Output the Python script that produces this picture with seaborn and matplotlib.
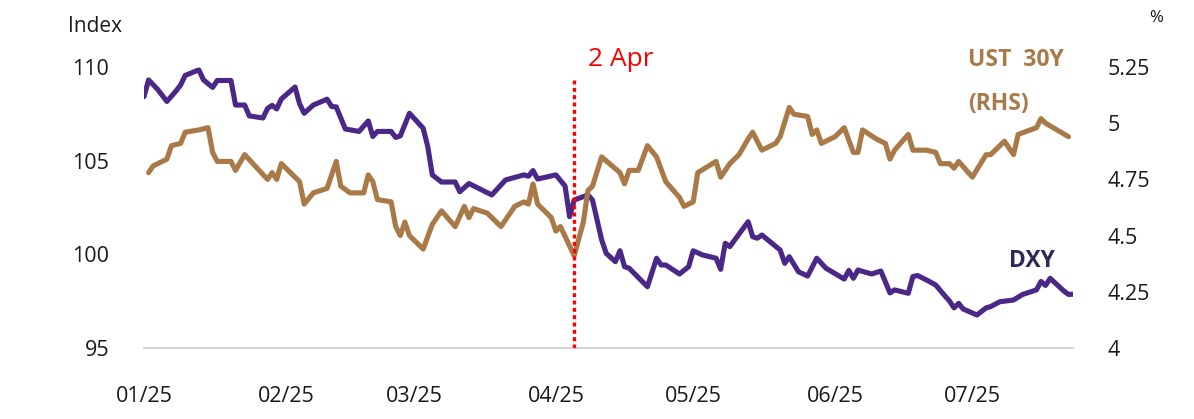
import matplotlib
matplotlib.use("Agg")
import matplotlib.pyplot as plt
import matplotlib.dates as mdates
import seaborn as sns
import pandas as pd

# DXY index (left axis)
dxy_dates = [
    "2025-01-01", "2025-01-02", "2025-01-04", "2025-01-06", "2025-01-08", "2025-01-09", "2025-01-10", "2025-01-12", "2025-01-13", "2025-01-14",
    "2025-01-16", "2025-01-17", "2025-01-20", "2025-01-21", "2025-01-23", "2025-01-24", "2025-01-27", "2025-01-28", "2025-01-29", "2025-01-30",
    "2025-01-31", "2025-02-03", "2025-02-04", "2025-02-05", "2025-02-07", "2025-02-10", "2025-02-11", "2025-02-12", "2025-02-14", "2025-02-17",
    "2025-02-19", "2025-02-20", "2025-02-21", "2025-02-24", "2025-02-25", "2025-02-26", "2025-02-28", "2025-03-03", "2025-03-04", "2025-03-05",
    "2025-03-07", "2025-03-10", "2025-03-11", "2025-03-13", "2025-03-18", "2025-03-21", "2025-03-25", "2025-03-26", "2025-03-27", "2025-03-28",
    "2025-04-01", "2025-04-03", "2025-04-04", "2025-04-05", "2025-04-08", "2025-04-09", "2025-04-11", "2025-04-12", "2025-04-14", "2025-04-15",
    "2025-04-16", "2025-04-17", "2025-04-21", "2025-04-23", "2025-04-24", "2025-04-25", "2025-04-28", "2025-04-30", "2025-05-01", "2025-05-03",
    "2025-05-06", "2025-05-07", "2025-05-08", "2025-05-09", "2025-05-13", "2025-05-14", "2025-05-15", "2025-05-16", "2025-05-20", "2025-05-21",
    "2025-05-22", "2025-05-24", "2025-05-26", "2025-05-28", "2025-05-30", "2025-06-03", "2025-06-04", "2025-06-05", "2025-06-06", "2025-06-09",
    "2025-06-11", "2025-06-13", "2025-06-14", "2025-06-17", "2025-06-18", "2025-06-19", "2025-06-21", "2025-06-23", "2025-06-25", "2025-06-26",
    "2025-06-27", "2025-06-28", "2025-06-29", "2025-07-02", "2025-07-04", "2025-07-05", "2025-07-07", "2025-07-10", "2025-07-12", "2025-07-15",
    "2025-07-16", "2025-07-17", "2025-07-18", "2025-07-21", "2025-07-22", "2025-07-23",
]
dxy_values = [
    108.42, 109.31, 108.80, 108.16, 108.72, 109.04, 109.55, 109.75, 109.84, 109.31,
    108.91, 109.28, 109.28, 107.97, 107.97, 107.39, 107.28, 107.79, 107.95, 107.76,
    108.29, 108.93, 108.03, 107.53, 107.97, 108.28, 107.89, 107.87, 106.69, 106.56,
    107.12, 106.29, 106.56, 106.56, 106.24, 106.32, 107.53, 106.73, 105.75, 104.24,
    103.86, 103.86, 103.34, 103.78, 103.17, 103.97, 104.24, 104.17, 104.47, 104.02,
    104.24, 103.65, 102.01, 102.90, 103.17, 102.90, 100.77, 100.05, 99.61, 100.19,
    99.34, 99.26, 98.27, 99.79, 99.43, 99.43, 98.95, 99.34, 100.19, 99.97,
    99.79, 99.20, 100.59, 100.41, 101.74, 100.94, 100.86, 101.03, 100.23, 99.52,
    99.87, 99.07, 98.84, 99.79, 99.26, 98.68, 99.14, 98.72, 99.16, 98.95,
    99.11, 97.94, 98.10, 97.92, 98.81, 98.87, 98.63, 98.36, 97.78, 97.51,
    97.14, 97.38, 97.08, 96.76, 97.14, 97.21, 97.47, 97.56, 97.86, 98.10,
    98.55, 98.34, 98.72, 98.04, 97.86, 97.87,
]

# UST 30Y yield in % (right axis)
ust_dates = [
    "2025-01-02", "2025-01-03", "2025-01-06", "2025-01-07", "2025-01-09", "2025-01-10", "2025-01-13", "2025-01-15", "2025-01-16", "2025-01-17",
    "2025-01-20", "2025-01-21", "2025-01-23", "2025-01-28", "2025-01-29", "2025-01-30", "2025-01-31", "2025-02-04", "2025-02-05", "2025-02-07",
    "2025-02-10", "2025-02-12", "2025-02-13", "2025-02-15", "2025-02-18", "2025-02-19", "2025-02-20", "2025-02-21", "2025-02-24", "2025-02-25",
    "2025-02-26", "2025-02-27", "2025-02-28", "2025-03-03", "2025-03-05", "2025-03-06", "2025-03-07", "2025-03-10", "2025-03-12", "2025-03-13",
    "2025-03-14", "2025-03-17", "2025-03-20", "2025-03-23", "2025-03-25", "2025-03-26", "2025-03-27", "2025-03-28", "2025-03-31", "2025-04-01",
    "2025-04-02", "2025-04-05", "2025-04-07", "2025-04-08", "2025-04-09", "2025-04-11", "2025-04-15", "2025-04-16", "2025-04-17", "2025-04-19",
    "2025-04-21", "2025-04-23", "2025-04-25", "2025-04-28", "2025-04-29", "2025-05-01", "2025-05-02", "2025-05-06", "2025-05-07", "2025-05-09",
    "2025-05-11", "2025-05-13", "2025-05-14", "2025-05-16", "2025-05-19", "2025-05-20", "2025-05-22", "2025-05-23", "2025-05-26", "2025-05-27",
    "2025-05-28", "2025-05-29", "2025-06-01", "2025-06-03", "2025-06-05", "2025-06-06", "2025-06-07", "2025-06-10", "2025-06-12", "2025-06-13",
    "2025-06-14", "2025-06-17", "2025-06-18", "2025-06-21", "2025-06-23", "2025-06-24", "2025-06-26", "2025-06-27", "2025-06-28", "2025-07-01",
    "2025-07-04", "2025-07-05", "2025-07-08", "2025-07-10", "2025-07-11", "2025-07-15", "2025-07-16", "2025-07-17", "2025-07-22",
]
ust_values = [
    4.78, 4.81, 4.84, 4.90, 4.91, 4.96, 4.97, 4.98, 4.87, 4.83,
    4.83, 4.79, 4.86, 4.75, 4.78, 4.75, 4.82, 4.74, 4.64, 4.69,
    4.71, 4.83, 4.72, 4.69, 4.69, 4.77, 4.74, 4.66, 4.65, 4.54,
    4.50, 4.56, 4.50, 4.44, 4.55, 4.58, 4.61, 4.54, 4.63, 4.58,
    4.62, 4.60, 4.54, 4.63, 4.65, 4.64, 4.73, 4.64, 4.58, 4.52,
    4.54, 4.41, 4.56, 4.70, 4.72, 4.85, 4.78, 4.73, 4.79, 4.79,
    4.90, 4.85, 4.74, 4.67, 4.63, 4.65, 4.78, 4.83, 4.76, 4.82,
    4.86, 4.93, 4.96, 4.88, 4.91, 4.94, 5.07, 5.04, 5.03, 4.95,
    4.97, 4.91, 4.94, 4.98, 4.87, 4.87, 4.97, 4.93, 4.91, 4.84,
    4.88, 4.95, 4.88, 4.88, 4.87, 4.82, 4.82, 4.80, 4.83, 4.76,
    4.86, 4.86, 4.92, 4.86, 4.95, 4.98, 5.02, 5.00, 4.94,
]

month_ticks = pd.date_range("2025-01-01", "2025-07-01", freq="MS")
left_ticks = [95, 100, 105, 110]
right_ticks = [4, 4.25, 4.5, 4.75, 5, 5.25]
event_date = "2025-04-05"   # "2 Apr" marker as placed on the chart
event_label = "2 Apr"

DXY_COLOR = "#4B2887"
UST_COLOR = "#A97A48"
GRID_GREY = "#D6D6D6"
TEXT = "#1A1A1A"

sns.set_style("white")
plt.rcParams["font.family"] = ["Open Sans", "DejaVu Sans"]

dxy = pd.DataFrame({"date": pd.to_datetime(dxy_dates), "value": dxy_values})
ust = pd.DataFrame({"date": pd.to_datetime(ust_dates), "value": ust_values})

fig = plt.figure(figsize=(11.94, 4.19), dpi=100)
ax = fig.add_axes([0.1206, 0.1695, 0.7781, 0.6706])

sns.lineplot(data=dxy, x="date", y="value", ax=ax, color=DXY_COLOR, linewidth=3.7)
ax.set_xlim(pd.Timestamp("2025-01-01"), pd.Timestamp("2025-07-23"))
ax.set_ylim(95, 110)

ax2 = ax.twinx()
sns.lineplot(data=ust, x="date", y="value", ax=ax2, color=UST_COLOR, linewidth=3.7)
ax2.set_ylim(4, 5.25)
ax2.vlines(pd.Timestamp(event_date), 4, 5.19, colors="#FF0000",
           linestyles=(0, (1.2, 1.0)), linewidth=2.4, zorder=5)

# axes cosmetics
for a in (ax, ax2):
    a.set_xlabel("")
    a.set_ylabel("")
    for s in a.spines.values():
        s.set_visible(False)
ax.spines["bottom"].set_visible(True)
ax.spines["bottom"].set_color(GRID_GREY)
ax.spines["bottom"].set_linewidth(1.5)

ax.set_xticks(month_ticks)
ax.xaxis.set_major_formatter(mdates.DateFormatter("%m/%y"))
ax.tick_params(axis="x", length=6.5, width=1.5, color=GRID_GREY, pad=21,
               labelsize=15.5, labelcolor=TEXT)

ax.set_yticks(left_ticks)
ax.set_yticklabels([str(t) for t in left_ticks])
ax.tick_params(axis="y", length=0, pad=25, labelsize=15.5, labelcolor=TEXT)

ax2.set_yticks(right_ticks)
ax2.set_yticklabels([f"{t:g}" for t in right_ticks])
ax2.tick_params(axis="y", length=0, pad=25, labelsize=15.5, labelcolor=TEXT)

# annotations
ax.text(pd.Timestamp("2025-04-08"), 110.06, event_label, color="#FF0000",
        fontsize=19, ha="left", va="baseline")
ax.text(pd.Timestamp("2025-06-30"), 110.06, "UST  30Y", color=UST_COLOR,
        fontsize=16.5, fontweight="bold", ha="left", va="baseline")
ax.text(pd.Timestamp("2025-06-30"), 107.71, "(RHS)", color=UST_COLOR,
        fontsize=16.5, fontweight="bold", ha="left", va="baseline")
ax.text(pd.Timestamp("2025-07-09"), 99.34, "DXY", color="#2B2A55",
        fontsize=16.5, fontweight="bold", ha="left", va="baseline")

fig.text(0.057, 0.924, "Index", fontsize=15, color=TEXT, ha="left", va="baseline")
fig.text(0.9623, 0.948, "%", fontsize=12, color=TEXT, ha="left", va="baseline")

fig.savefig("out.png", dpi=100)
